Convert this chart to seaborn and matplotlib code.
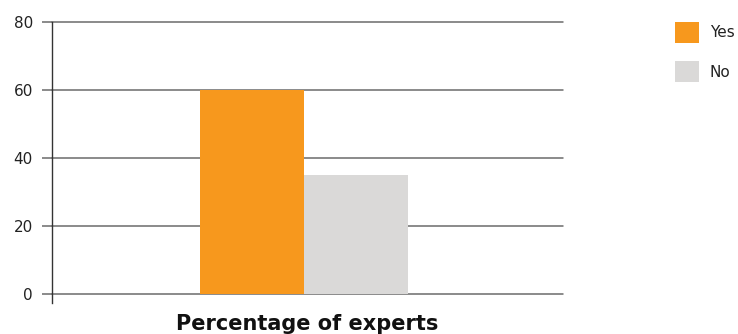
import matplotlib
matplotlib.use("Agg")
import matplotlib.pyplot as plt
from matplotlib.patches import Patch
import seaborn as sns
import pandas as pd

# Survey results
category = ["Percentage of experts"]
answers = ["Yes", "No"]
values = [60, 35]
colors = ["#F7981D", "#DAD9D8"]
y_ticks = [0, 20, 40, 60, 80]

df = pd.DataFrame({
    "group": category * len(answers),
    "answer": answers,
    "value": values,
})

sns.set_style("white")
plt.rcParams["font.family"] = ["DejaVu Sans"]

W, H = 738, 334
fig = plt.figure(figsize=(W / 100, H / 100), dpi=100)
ax_left, ax_right, ax_top, ax_bottom = 52, 563, 22, 303
ax = fig.add_axes([ax_left / W, 1 - ax_bottom / H,
                   (ax_right - ax_left) / W, (ax_bottom - ax_top) / H])

sns.barplot(data=df, x="group", y="value", hue="answer",
            palette=colors, hue_order=answers, ax=ax,
            saturation=1, width=0.8, linewidth=0, legend=False)

ax.set_ylim(-2.65, 80)
ax.set_xlim(-0.969, 0.996)
ax.set_yticks(y_ticks)
ax.set_xticks([])
ax.yaxis.grid(True, color="#6b6b6b", linewidth=1.1)
for line in ax.get_ygridlines():
    line.set_clip_on(False)
ax.set_axisbelow(True)
for side in ["top", "right", "bottom"]:
    ax.spines[side].set_visible(False)
ax.spines["left"].set_color("#333333")
ax.spines["left"].set_linewidth(1.0)
ax.tick_params(axis="y", length=7.2, width=1.1, color="#6b6b6b",
               pad=6.5, labelsize=11, labelcolor="#222222", left=True)

ax.set_xlabel("Percentage of experts", fontsize=15, fontweight="bold",
              labelpad=8, color="#111111")
ax.set_ylabel("")

# Legend with square swatches in the top right corner
handles = [Patch(facecolor=c, edgecolor="none", label=a)
           for a, c in zip(answers, colors)]
fig.legend(handles=handles, loc="upper left",
           bbox_to_anchor=(675 / W, 1 - 21.7 / H), frameon=False,
           fontsize=11, handlelength=1.57, handleheight=1.737,
           labelspacing=1.22, handletextpad=0.72, borderaxespad=0,
           borderpad=0, labelcolor="#222222")

fig.savefig("out.png", dpi=100)
